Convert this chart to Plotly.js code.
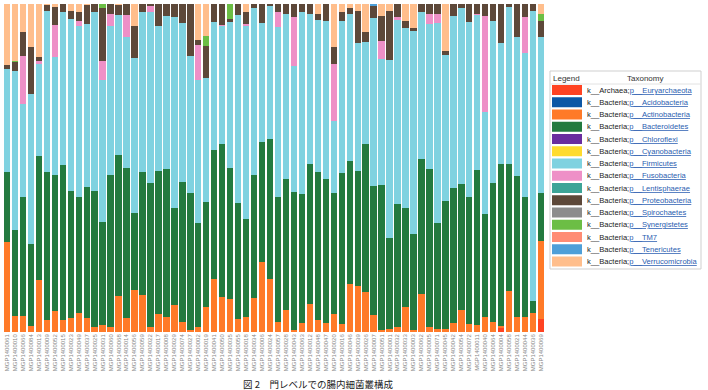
<!DOCTYPE html>
<html><head><meta charset="utf-8">
<script src="https://cdn.plot.ly/plotly-3.0.1.min.js"></script>
<style>html,body{margin:0;padding:0;background:#fff}#chart{width:708px;height:390px}</style>
</head><body><div id="chart"></div>
<script>
const samples = ["MGP1400061","MGP1400010","MGP1400066","MGP1400084","MGP1400013","MGP1400009","MGP1400052","MGP1400015","MGP1400023","MGP1400049","MGP1400037","MGP1400025","MGP1400031","MGP1400060","MGP1400068","MGP1400014","MGP1400056","MGP1400059","MGP1400022","MGP1400017","MGP1400008","MGP1400029","MGP1400074","MGP1400027","MGP1400002","MGP1400019","MGP1400041","MGP1400050","MGP1400035","MGP1400055","MGP1400018","MGP1400034","MGP1400006","MGP1400024","MGP1400057","MGP1400028","MGP1400043","MGP1400063","MGP1400012","MGP1400048","MGP1400047","MGP1400020","MGP1400016","MGP1400046","MGP1400039","MGP1400026","MGP1400007","MGP1400051","MGP1400001","MGP1400032","MGP1400033","MGP1400003","MGP1400062","MGP1400005","MGP1400071","MGP1400045","MGP1400042","MGP1400054","MGP1400072","MGP1400011","MGP1400040","MGP1400064","MGP1400004","MGP1400058","MGP1400021","MGP1400044","MGP1400036","MGP1400069"];

// relative abundance (%) per sample
const euryarchaeota = [0,0,0,0,0,0,0,0,0,0, 0,0,0,0,0,0,0,0,0,0, 0,0,0,0,0,0,0,0,0,0, 0,0,0,0,0,0,0,0,0,0, 0,0,0,0,0,0,0,0,0,0, 0,0,0,0,0,0,0,0,0,0, 0,0,1.2,0,0,0,0,4.0];
const actinobacteria = [27.5,4.9,4.9,1.8,15.9,3.7,6.4,3.7,4.3,5.8, 4.3,1.5,2.1,1.5,11.0,4.3,12.8,11.3,1.5,5.5, 4.6,8.3,3.1,0.6,1.5,7.6,16.2,10.7,10.1,4.0, 4.6,10.4,21.4,16.2,3.1,6.7,0.6,2.8,8.6,3.7, 2.8,5.5,2.4,14.7,14.1,12.2,5.2,0.6,0.9,1.5, 7.6,0.6,11.6,1.5,0.9,0.9,2.8,6.7,2.4,2.1, 4.6,3.1,0.6,12.5,4.6,4.6,5.8,23.9];
const bacteroidetes = [21.4,26.3,36.4,25.1,37.6,45.0,41.6,47.1,38.5,35.5, 39.8,41.3,31.5,46.5,43.1,45.9,23.5,37.3,44.0,43.4, 45.0,29.4,42.5,41.9,31.8,32.1,39.1,46.5,39.8,35.5, 30.0,37.6,36.4,42.5,38.2,40.1,42.2,39.4,42.8,45.0, 43.7,36.7,46.2,37.3,34.9,45.3,39.4,44.3,27.8,37.6, 30.3,29.4,41.0,48.3,32.4,39.1,41.0,38.5,38.8,47.4, 31.5,42.2,49.5,38.8,43.1,36.7,3.7,14.4];
const firmicutes = [31.2,48.3,28.1,45.6,28.1,49.2,35.8,46.8,52.6,52.0, 49.8,54.7,43.1,45.3,42.5,39.8,47.1,48.9,52.0,44.3, 46.8,58.4,48.6,41.6,43.4,37.6,39.1,36.1,44.6,57.2, 58.7,50.8,36.4,40.7,51.7,50.2,38.2,55.4,45.6,46.5, 48.3,22.0,46.2,45.0,39.1,30.9,51.1,38.2,54.1,56.0, 54.7,61.8,45.0,44.0,60.9,44.3,52.6,53.5,53.2,47.1, 30.9,49.5,36.7,47.7,42.2,43.7,88.4,47.7];
const fusobacteria = [0,0,14.7,0,0.9,0,9.8,0,0,1.5, 0,0,5.8,3.7,0,6.7,0,0,1.8,0, 0,0,0,0,10.7,0,0,0.3,0,0, 0.6,0,0,0,4.6,0,15.0,0,0,0, 0,17.4,0,0,0,0,0,5.5,0,0.9, 0,0,0,3.1,2.8,0,0,0,0,0.3, 29.4,0,0,0,0,11.0,0,0];
const proteobacteria = [1.2,2.8,7.3,14.4,1.2,1.8,5.5,2.4,2.4,2.8, 5.8,2.4,16.2,3.1,3.1,3.4,9.8,2.4,0.6,6.7, 3.7,4.0,5.8,15.9,1.5,9.8,5.5,6.4,0.9,3.4, 3.7,1.2,5.8,0.6,2.4,3.1,4.0,2.4,3.1,1.8, 5.2,5.2,2.8,1.8,9.8,3.1,3.7,7.6,15.0,4.0, 2.1,0.9,2.4,3.1,3.1,1.2,3.7,1.2,5.5,3.1, 3.7,5.2,11.9,0.9,10.1,4.0,2.1,4.9];
const synergistetes = [0,0.3,0,0,0,0,0,0,0,0, 0,0,1.2,0,0,0,0,0,0,0, 0,0,0,0,0,3.1,0,0,4.6,0, 0,0,0,0,0,0,0,0,0,0, 0,0,0,0,0,0,0,0,0,0, 0,0,0,0,0,0,0,0,0,0, 0,0,0,0,0,0,0,2.1];
const tenericutes = [0,0,0,0,0,0,0,0,0,0, 0,0,0,0,0,0,0,0,0,0, 0,0,0,0,0,0,0,0,0,0, 0,0,0,0,0,0,0,0,0,0, 0,0,0,0,0,0,0.6,0,0,0, 0,0,0,0,0,0,0,0,0,0, 0,0,0,0,0,0,0,0];
const verrucomicrobia = [18.7,17.4,8.6,13.1,16.2,0.3,0.9,0,2.1,2.4, 0.3,0,0,0,0.3,0,6.7,0,0,0, 0,0,0,0,11.0,9.8,0,0,0,0, 2.4,0,0,0,0,0,0,0,0,3.1, 0,13.1,2.4,1.2,2.1,8.6,0,3.7,2.1,0, 5.2,7.3,0,0,0,14.4,0,0,0,0, 0,0,0,0,0,0,0,3.1];

const legendKingdoms = ["Archaea","Bacteria","Bacteria","Bacteria","Bacteria","Bacteria","Bacteria","Bacteria","Bacteria","Bacteria","Bacteria","Bacteria","Bacteria","Bacteria","Bacteria"];
const legendPhyla = ["Euryarchaeota","Acidobacteria","Actinobacteria","Bacteroidetes","Chloroflexi","Cyanobacteria","Firmicutes","Fusobacteria","Lentisphaerae","Proteobacteria","Spirochaetes","Synergistetes","TM7","Tenericutes","Verrucomicrobia"];
const legendColors = ["#FF4322","#0D57A5","#FF7A28","#237A3F","#6A2D9F","#FFDB2E","#7FD2E0","#EE90C7","#3DA497","#5D4839","#8C8C8C","#6CBE45","#FF8C74","#4E9FD8","#FFBE8C"];

const seriesList = [
  ["Euryarchaeota", euryarchaeota],
  ["Actinobacteria", actinobacteria],
  ["Bacteroidetes", bacteroidetes],
  ["Firmicutes", firmicutes],
  ["Fusobacteria", fusobacteria],
  ["Proteobacteria", proteobacteria],
  ["Synergistetes", synergistetes],
  ["Tenericutes", tenericutes],
  ["Verrucomicrobia", verrucomicrobia]
];

const traces = seriesList.map(([name, vals]) => ({
  type: 'bar', name: name, x: samples, y: vals,
  marker: {color: legendColors[legendPhyla.indexOf(name)], line: {width: 0}},
  hoverinfo: 'x+y+name'
}));

// plot area in pixels
const W = 708, H = 390, L = 3, R = 545, T = 4, B = 332;
const px = x => (x - L) / (R - L);
const py = y => (B - y) / (B - T);

const shapes = [];
const annotations = [];
// legend table box
shapes.push({type:'rect', xref:'paper', yref:'paper', x0:px(550), x1:px(701), y0:py(71), y1:py(269), line:{color:'#cfcfcf', width:1}, fillcolor:'#ffffff', layer:'below'});
shapes.push({type:'line', xref:'paper', yref:'paper', x0:px(550), x1:px(701), y0:py(84), y1:py(84), line:{color:'#e2e2e2', width:1}});
annotations.push({xref:'paper', yref:'paper', x:px(567), y:py(78), text:'Legend', showarrow:false, xanchor:'center', yanchor:'middle', font:{family:'Liberation Sans, Arial', size:8, color:'#333'}});
annotations.push({xref:'paper', yref:'paper', x:px(645), y:py(78), text:'Taxonomy', showarrow:false, xanchor:'center', yanchor:'middle', font:{family:'Liberation Sans, Arial', size:8, color:'#333'}});
legendPhyla.forEach((p, i) => {
  const yc = 90 + i * 12.25;
  shapes.push({type:'rect', xref:'paper', yref:'paper', x0:px(552), x1:px(582), y0:py(yc - 5), y1:py(yc + 5), line:{width:0}, fillcolor:legendColors[i]});
  annotations.push({xref:'paper', yref:'paper', x:px(585), y:py(yc), showarrow:false, xanchor:'left', yanchor:'middle',
    text:'k__' + legendKingdoms[i] + ';<span style="color:#2a5db0;text-decoration:underline">p__' + p + '</span>',
    font:{family:'Liberation Sans, Arial', size:7.6, color:'#222'}});
});
// caption
annotations.push({xref:'paper', yref:'paper', x:px(318), y:py(384), showarrow:false, xanchor:'center', yanchor:'middle',
  text:'図 2　門レベルでの腸内細菌叢構成', font:{family:'Noto Sans CJK JP', size:9.5, color:'#222'}});

const layout = {
  width: W, height: H,
  margin: {l: L, r: W - R, t: T, b: H - B, pad: 0},
  barmode: 'stack', barnorm: 'percent', bargap: 0.2,
  showlegend: false,
  paper_bgcolor: '#ffffff', plot_bgcolor: '#ffffff',
  xaxis: {type:'category', tickangle:-90, tickfont:{family:'Liberation Sans, Arial', size:6, color:'#888'},
          showline:false, showgrid:false, zeroline:false, ticks:'', automargin:false, fixedrange:true},
  yaxis: {range:[0,100], visible:false, showgrid:false, zeroline:false, fixedrange:true},
  shapes: shapes, annotations: annotations
};
Plotly.newPlot('chart', traces, layout, {displayModeBar:false, staticPlot:true});
</script>
</body></html>
